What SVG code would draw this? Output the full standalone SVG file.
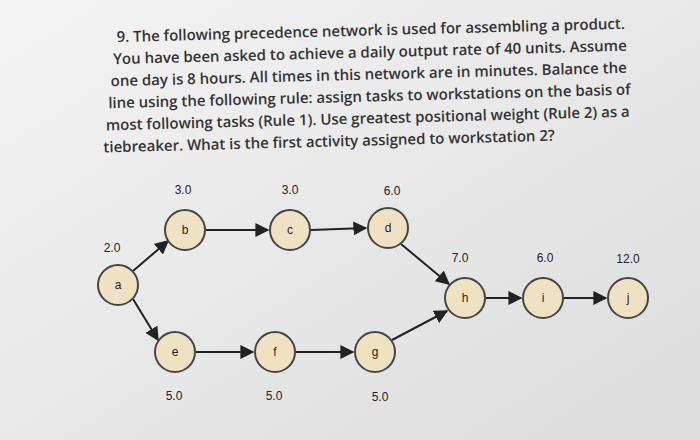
<svg xmlns="http://www.w3.org/2000/svg" width="700" height="440" viewBox="0 0 700 440">
<defs>
<linearGradient id="bg" x1="0" y1="0" x2="1" y2="1"><stop offset="0" stop-color="#f4f4f4"/><stop offset="1" stop-color="#dcdcdc"/></linearGradient>
<marker id="ar" viewBox="0 0 10 10" refX="9" refY="5" markerWidth="7" markerHeight="7" orient="auto"><path d="M0,0L10,5L0,10z" fill="#222"/></marker>
</defs>
<style>
.q{font-family:"Open Sans","Liberation Sans",sans-serif;font-size:15px;font-weight:600;fill:#333}
.n circle{fill:#efe2c2;stroke:#444;stroke-width:2}
.n text{font-family:"Liberation Sans",Arial,sans-serif;font-size:12px;fill:#222;text-anchor:middle}
.w{font-family:"Liberation Sans",Arial,sans-serif;font-size:10px;fill:#333;text-anchor:middle}
#edges line{stroke:#222;stroke-width:2;marker-end:url(#ar)}
</style>
<rect width="700" height="440" fill="url(#bg)"/>
<g transform="rotate(-1.5 350 90)">
<text class="q" x="118" y="36">9. The following precedence network is used for assembling a product.</text>
<text class="q" x="114" y="58">You have been asked to achieve a daily output rate of 40 units. Assume</text>
<text class="q" x="111" y="80">one day is 8 hours. All times in this network are in minutes. Balance the</text>
<text class="q" x="108" y="102">line using the following rule: assign tasks to workstations on the basis of</text>
<text class="q" x="105" y="124">most following tasks (Rule 1). Use greatest positional weight (Rule 2) as a</text>
<text class="q" x="102" y="146">tiebreaker. What is the first activity assigned to workstation 2?</text>
</g>
<g id="edges">
<line x1="133" y1="271" x2="168" y2="241"/>
<line x1="133" y1="299" x2="158" y2="340"/>
<line x1="206" y1="230" x2="268" y2="230"/>
<line x1="311" y1="230" x2="366" y2="228"/>
<line x1="401" y1="244" x2="449" y2="284"/>
<line x1="196" y1="352" x2="253" y2="352"/>
<line x1="296" y1="352" x2="353" y2="352"/>
<line x1="392" y1="340" x2="447" y2="311"/>
<line x1="486" y1="298" x2="521" y2="298"/>
<line x1="564" y1="298" x2="606" y2="298"/>
</g>
<g id="a" class="n"><circle cx="118" cy="285" r="20"/><text x="118" y="289">a</text><text class="w" x="112" y="252">2.0</text></g>
<g id="b" class="n"><circle cx="185" cy="230" r="20"/><text x="185" y="234">b</text><text class="w" x="183" y="194">3.0</text></g>
<g id="c" class="n"><circle cx="290" cy="230" r="20"/><text x="290" y="234">c</text><text class="w" x="290" y="194">3.0</text></g>
<g id="d" class="n"><circle cx="388" cy="228" r="20"/><text x="388" y="232">d</text><text class="w" x="392" y="195">6.0</text></g>
<g id="e" class="n"><circle cx="175" cy="352" r="20"/><text x="175" y="356">e</text><text class="w" x="174" y="400">5.0</text></g>
<g id="f" class="n"><circle cx="275" cy="352" r="20"/><text x="275" y="356">f</text><text class="w" x="274" y="400">5.0</text></g>
<g id="g" class="n"><circle cx="375" cy="352" r="20"/><text x="375" y="356">g</text><text class="w" x="380" y="401">5.0</text></g>
<g id="h" class="n"><circle cx="465" cy="298" r="20"/><text x="465" y="302">h</text><text class="w" x="460" y="262">7.0</text></g>
<g id="i" class="n"><circle cx="543" cy="298" r="20"/><text x="543" y="302">i</text><text class="w" x="545" y="262">6.0</text></g>
<g id="j" class="n"><circle cx="628" cy="298" r="20"/><text x="628" y="302">j</text><text class="w" x="628" y="263">12.0</text></g>
</svg>
